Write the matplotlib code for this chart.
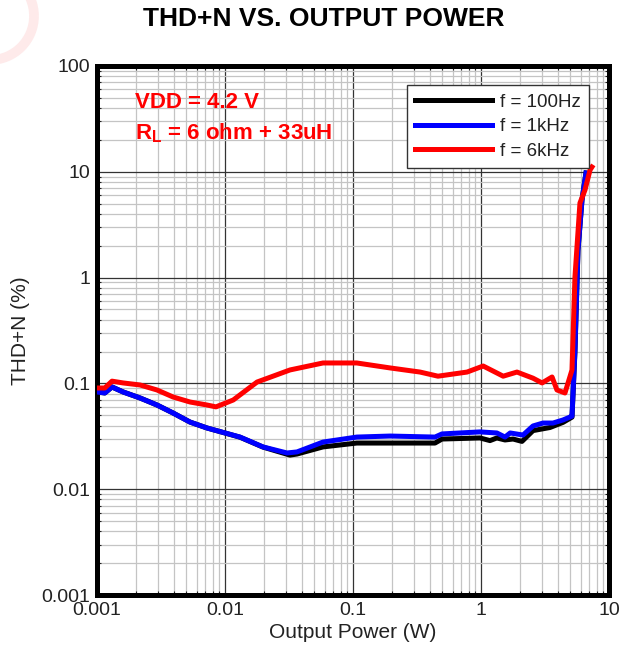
import matplotlib
matplotlib.use("Agg")
import matplotlib.pyplot as plt
from matplotlib.ticker import FixedLocator, FuncFormatter, LogLocator, NullFormatter
from matplotlib.patches import Arc

plt.rcParams['font.family'] = ['Liberation Sans', 'DejaVu Sans']
plt.rcParams['mathtext.fontset'] = 'custom'
plt.rcParams['mathtext.bf'] = 'Liberation Sans:bold'
plt.rcParams['mathtext.rm'] = 'Liberation Sans'

# ---------------- data ----------------
p_100hz = [0.001, 0.00115, 0.00131, 0.0016, 0.00217, 0.00294, 0.00393, 0.00533, 0.00723,
           0.0131, 0.0198, 0.0322, 0.0365, 0.0583, 0.107, 0.195, 0.437, 0.496, 0.982,
           1.175, 1.33, 1.54, 1.78, 2.09, 2.55, 3.46, 4.37, 4.96, 5.14, 5.42, 5.72, 6.15, 6.61]
thd_100hz = [0.083, 0.0812, 0.0925, 0.083, 0.0728, 0.0625, 0.0525, 0.0431, 0.0379,
             0.031, 0.025, 0.021, 0.0215, 0.0251, 0.0273, 0.0273, 0.0273, 0.0298, 0.0305,
             0.0288, 0.0305, 0.0292, 0.0298, 0.0283, 0.0358, 0.0383, 0.0428, 0.0468, 0.048, 0.2, 1.8, 5.4, 9.75]

p_1khz = [0.001, 0.00115, 0.00131, 0.0016, 0.00217, 0.00294, 0.00393, 0.00533, 0.00723,
          0.0131, 0.0198, 0.0305, 0.0365, 0.0583, 0.107, 0.195, 0.437, 0.496, 0.982,
          1.33, 1.54, 1.69, 2.13, 2.55, 3.05, 3.65, 4.37, 4.96, 5.14, 5.42, 5.72, 6.15, 6.61]
thd_1khz = [0.083, 0.0812, 0.0925, 0.083, 0.0728, 0.0625, 0.0525, 0.0431, 0.0379,
            0.0311, 0.0251, 0.022, 0.0225, 0.0279, 0.0311, 0.0318, 0.0311, 0.0333, 0.0348,
            0.034, 0.0311, 0.034, 0.0325, 0.0396, 0.0422, 0.0422, 0.0451, 0.0481, 0.049, 0.207, 1.82, 5.4, 9.75]

p_6khz = [0.001, 0.00115, 0.00131, 0.0016, 0.00217, 0.00294, 0.00393, 0.00533, 0.00723,
          0.0085, 0.0116, 0.0178, 0.0322, 0.0583, 0.107, 0.195, 0.334, 0.461, 0.778,
          1.04, 1.49, 1.91, 2.55, 3.0, 3.59, 3.92, 4.53, 5.14, 5.42, 5.93, 6.49, 7.11, 7.36]
thd_6khz = [0.0905, 0.0905, 0.105, 0.101, 0.0966, 0.0867, 0.0744, 0.0667, 0.0625,
            0.060, 0.0697, 0.103, 0.134, 0.156, 0.156, 0.14, 0.128, 0.117, 0.128,
            0.146, 0.117, 0.128, 0.112, 0.101, 0.115, 0.0867, 0.0812, 0.134, 1.01, 5.07, 6.72, 10.4, 11.1]

series_labels = ['f = 100Hz', 'f = 1kHz', 'f = 6kHz']
series_colors = ['#000000', '#0000ff', '#ff0000']

x_ticks = [0.001, 0.01, 0.1, 1, 10]
x_ticklabels = ['0.001', '0.01', '0.1', '1', '10']
y_ticks = [0.001, 0.01, 0.1, 1, 10, 100]
y_ticklabels = ['0.001', '0.01', '0.1', '1', '10', '100']

title = 'THD+N VS. OUTPUT POWER'
xlabel = 'Output Power (W)'
ylabel = 'THD+N (%)'
note1 = 'VDD = 4.2 V'
note2 = r'$\mathbf{R}_\mathbf{L}$ = 6 ohm + 33uH'

# ---------------- figure ----------------
W, H = 619, 656
fig = plt.figure(figsize=(W / 100, H / 100), dpi=100)
ax = fig.add_axes([97 / W, 1 - 595 / H, (609 - 97) / W, (595 - 66) / H])

# faint watermark arc at top-left
arc = Arc((-10 / W, 1 - 16 / H), 88 / W, 88 / H, transform=fig.transFigure,
          color='#feeaea', lw=7, zorder=0)
fig.patches.append(arc)

ax.set_xscale('log')
ax.set_yscale('log')
ax.set_xlim(0.001, 10)
ax.set_ylim(0.001, 100)

ax.xaxis.set_major_locator(FixedLocator(x_ticks))
ax.yaxis.set_major_locator(FixedLocator(y_ticks))
ax.xaxis.set_major_formatter(FuncFormatter(lambda v, i: x_ticklabels[x_ticks.index(min(x_ticks, key=lambda t: abs(t - v)))]))
ax.yaxis.set_major_formatter(FuncFormatter(lambda v, i: y_ticklabels[y_ticks.index(min(y_ticks, key=lambda t: abs(t - v)))]))
ax.xaxis.set_minor_locator(LogLocator(base=10, subs=range(2, 10), numticks=20))
ax.yaxis.set_minor_locator(LogLocator(base=10, subs=range(2, 10), numticks=20))
ax.xaxis.set_minor_formatter(NullFormatter())
ax.yaxis.set_minor_formatter(NullFormatter())

ax.grid(which='minor', color='#c4c4c4', lw=0.9)
ax.grid(which='major', color='#333333', lw=0.9)
ax.set_axisbelow(True)

ax.tick_params(which='both', direction='in', top=True, right=True, colors='#222222',
               labelcolor='#222222', labelsize=14)
ax.tick_params(which='major', length=0)
ax.tick_params(axis='x', which='major', pad=5)
ax.tick_params(axis='y', which='major', pad=5)
ax.tick_params(which='minor', length=3, width=0.8)

for s in ax.spines.values():
    s.set_linewidth(3.6)
    s.set_color('black')

for xs, ys, lab, col in zip([p_100hz, p_1khz, p_6khz], [thd_100hz, thd_1khz, thd_6khz],
                            series_labels, series_colors):
    ax.plot(xs, ys, color=col, lw=3.6, label=lab, solid_joinstyle='round', zorder=3)

leg = ax.legend(loc='upper right', bbox_to_anchor=(0.961, 0.964), borderaxespad=0,
                fontsize=13.5, handlelength=4.1, handletextpad=0.4, labelspacing=0.4,
                borderpad=0.45, frameon=True, fancybox=False, framealpha=1)
leg.get_frame().set_edgecolor('#333333')
leg.get_frame().set_linewidth(1.0)
for t in leg.get_texts():
    t.set_color('#222222')

ax.text(0.074, 0.921, note1, transform=ax.transAxes, color='#ff0000', fontsize=16,
        fontweight='bold', va='baseline', ha='left')
ax.text(0.074, 0.862, note2, transform=ax.transAxes, color='#ff0000', fontsize=16,
        fontweight='bold', va='baseline', ha='left')

ax.set_xlabel(xlabel, fontsize=15, color='#222222', labelpad=3)
ax.set_ylabel(ylabel, fontsize=15, color='#222222', labelpad=8)

fig.text(324 / W, 1 - 19 / H, title, ha='center', va='center', fontsize=19,
         fontweight='bold', family=['Liberation Sans Narrow', 'Liberation Sans', 'DejaVu Sans'],
         color='black')

fig.savefig('out.png', dpi=100)
